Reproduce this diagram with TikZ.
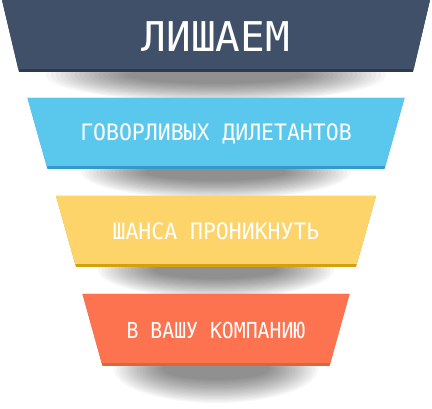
\documentclass[tikz,border=0pt]{standalone}
\usepackage{fontspec}
\newfontfamily\funnelfont{DejaVu Sans Mono}
\newfontfamily\funnelnarrow[FakeStretch=0.95]{DejaVu Sans Mono}
\newfontfamily\funnelnarrower[FakeStretch=0.9]{DejaVu Sans Mono}
\usetikzlibrary{backgrounds,positioning}
\definecolor{slatefill}{HTML}{3F5068}
\definecolor{slateband}{HTML}{2F3B4C}
\definecolor{skyfill}{HTML}{5AC8ED}
\definecolor{skyband}{HTML}{3399CC}
\definecolor{sunfill}{HTML}{FDD46A}
\definecolor{sunband}{HTML}{D4A10A}
\definecolor{coralfill}{HTML}{FD7350}
\definecolor{coralband}{HTML}{D8673A}

% ytop, ybot, top half width, bottom half width, fill, band
\newcommand{\funnelpiece}[6]{%
  \fill[#6] (216-#3,#1) -- (216+#3,#1) -- (216+#4,#2) -- (216-#4,#2) -- cycle;
  \fill[#5] (216-#3,#1) -- (216+#3,#1)
    -- ({216+#4+(#3-#4)*3/(#2-#1)},#2-3) -- ({216-#4-(#3-#4)*3/(#2-#1)},#2-3) -- cycle;
}
% y, x radius, y radius
\newcommand{\funnelshadow}[3]{%
  \foreach \k in {0,...,17} {
    \fill[black,opacity=0.032] (216,#1+3) ellipse [x radius={#2*(1-0.028*\k)*1pt}, y radius={#3*(1-0.04*\k)*1pt}];
  }
}

\begin{document}
\begin{tikzpicture}[x=1pt,y=-1pt]
  \tikzstyle{every node}=[text=white,inner sep=0pt,anchor=base]
  \tikzstyle{bigtext}=[font=\funnelfont\fontsize{41}{41}\selectfont]
  \tikzstyle{smalltext}=[font=\funnelnarrow\fontsize{22.6}{22.6}\selectfont]
  \tikzstyle{smallertext}=[font=\funnelnarrower\fontsize{22}{22}\selectfont]
  \useasboundingbox (0,0) rectangle (432,409);

  \funnelshadow{72}{170}{27}
  \funnelshadow{169}{135}{27}
  \funnelshadow{267}{118}{28}
  \funnelshadow{366}{102}{34}

  \funnelpiece{0}{72}{214}{197}{slatefill}{slateband}
  \funnelpiece{98}{169}{188.5}{168.5}{skyfill}{skyband}
  \funnelpiece{196}{267}{160}{140}{sunfill}{sunband}
  \funnelpiece{294}{366}{133.5}{113.5}{coralfill}{coralband}

  \node[bigtext] (lishaem) at (216,52) {ЛИШАЕМ};
  \node[smalltext] (govorlivyh) at (216,140.5) {ГОВОРЛИВЫХ ДИЛЕТАНТОВ};
  \node[smalltext] (shansa) at (216,239.5) {ШАНСА ПРОНИКНУТЬ};
  \node[smallertext] (kompaniyu) at (216,339) {В ВАШУ КОМПАНИЮ};
\end{tikzpicture}
\end{document}
